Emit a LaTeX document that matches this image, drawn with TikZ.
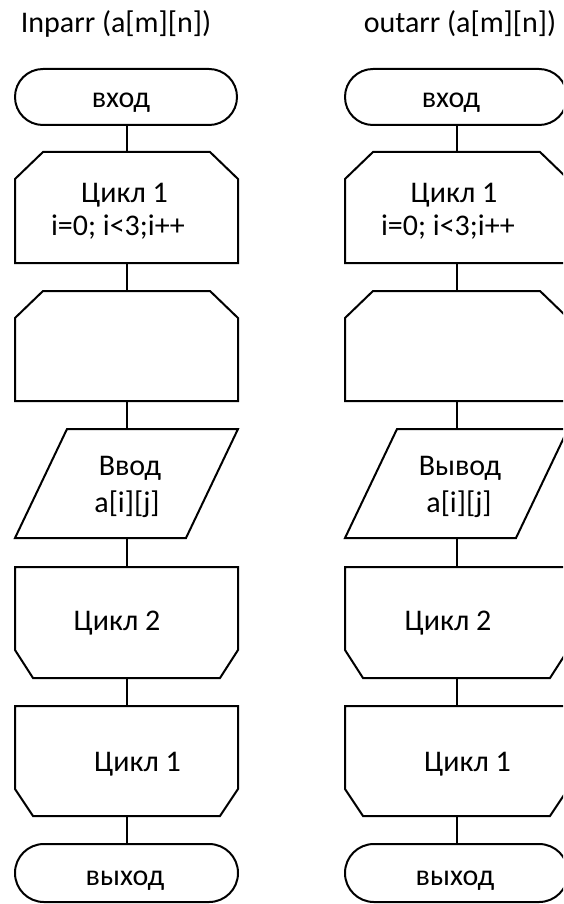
\documentclass[tikz,border=0pt]{standalone}
\usepackage{fontspec}
\setmainfont{Carlito}
\begin{document}
\begin{tikzpicture}[x=1pt,y=-1pt,
  shp/.style={draw=black,line width=2pt,line join=miter},
  conn/.style={draw=black,line width=2pt},
  lbl/.style={font=\fontsize{30}{36}\selectfont,inner sep=0pt,anchor=base},
  ttl/.style={font=\fontsize{30}{36}\selectfont,inner sep=0pt,anchor=base}]
\useasboundingbox (0,0) rectangle (563,904);
\clip (0,0) rectangle (563,904);
\newcommand\flowshapes[2]{%
\begin{scope}[shift={(#1,0)},name prefix=#2-]
  \draw[shp,rounded corners=27.9pt] (0,69) rectangle (222,125);
  \coordinate (t1b) at (111.5,125);
  \draw[shp] (28,152) -- (195,152) -- (223,179) -- (223,263) -- (0,263) -- (0,179) -- cycle;
  \coordinate (c1t) at (111.5,152); \coordinate (c1b) at (111.5,263);
  \draw[shp] (28,291) -- (195,291) -- (223,318) -- (223,401) -- (0,401) -- (0,318) -- cycle;
  \coordinate (c2t) at (111.5,291); \coordinate (c2b) at (111.5,401);
  \draw[shp] (52,429) -- (223,429) -- (171,538) -- (0,538) -- cycle;
  \coordinate (iot) at (111.5,429); \coordinate (iob) at (111.5,538);
  \draw[shp] (0,567) -- (223,567) -- (223,650) -- (205,678) -- (18,678) -- (0,650) -- cycle;
  \coordinate (e2t) at (111.5,567); \coordinate (e2b) at (111.5,678);
  \draw[shp] (0,706) -- (223,706) -- (223,789) -- (205,816) -- (18,816) -- (0,789) -- cycle;
  \coordinate (e1t) at (111.5,706); \coordinate (e1b) at (111.5,816);
  \draw[shp,rounded corners=28.9pt] (0,844) rectangle (223,902);
  \coordinate (t2t) at (111.5,844);
  \draw[conn] (t1b) -- (c1t);
  \draw[conn] (c1b) -- (c2t);
  \draw[conn] (c2b) -- (iot);
  \draw[conn] (iob) -- (e2t);
  \draw[conn] (e2b) -- (e1t);
  \draw[conn] (e1b) -- (t2t);
\end{scope}}
\flowshapes{15}{L}
\flowshapes{345}{R}
% left texts
\node[ttl] (L-title) at (116,33) {Inparr (a[m][n])};
\node[lbl] (L-in) at (121,108) {вход};
\node[lbl] (L-c1a) at (124.5,202) {Цикл 1};
\node[lbl] (L-c1b) at (118,235) {i=0; i<3;i++};
\node[lbl] (L-io1) at (130,475) {Ввод};
\node[lbl] (L-io2) at (127,512) {a[i][j]};
\node[lbl] (L-e2) at (117,630) {Цикл 2};
\node[lbl] (L-e1) at (137.5,771) {Цикл 1};
\node[lbl] (L-out) at (125,885) {выход};
% right texts
\node[ttl] (R-title) at (460,33) {outarr (a[m][n])};
\node[lbl] (R-in) at (451,108) {вход};
\node[lbl] (R-c1a) at (454,202) {Цикл 1};
\node[lbl] (R-c1b) at (448,235) {i=0; i<3;i++};
\node[lbl] (R-io1) at (460,475) {Вывод};
\node[lbl] (R-io2) at (459,512) {a[i][j]};
\node[lbl] (R-e2) at (448,630) {Цикл 2};
\node[lbl] (R-e1) at (467.5,771) {Цикл 1};
\node[lbl] (R-out) at (455,885) {выход};
\end{tikzpicture}
\end{document}
